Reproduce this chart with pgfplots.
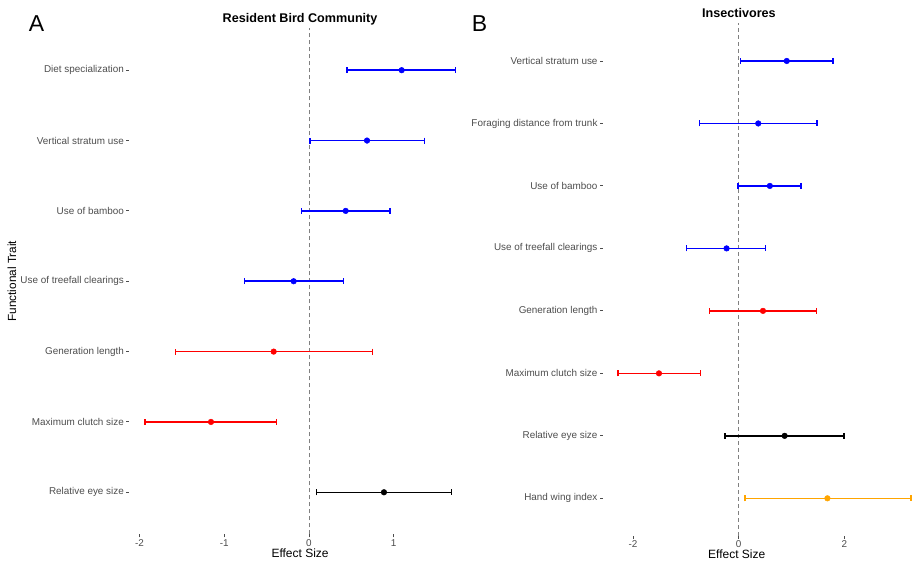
\documentclass[border=0pt]{standalone}
\usepackage{fontspec}
\setmainfont{Liberation Sans}
\usepackage{pgfplots}
\pgfplotsset{compat=1.18}
\definecolor{tickgray}{HTML}{4D4D4D}
\definecolor{zerogray}{HTML}{808080}
\definecolor{orng}{HTML}{FFA500}

\pgfplotsset{
 every axis title shift=0pt,
 forest/.style={
  scale only axis,
  axis x line=bottom, axis y line=left,
  axis line style={draw=none},
  tick align=outside,
  major tick length=3pt,
  tick style={tickgray, line width=0.9pt},
  ticklabel style={font=\fontsize{9.9}{11}\selectfont, text=tickgray},
  yticklabel style={xshift=1pt},
  xticklabel style={yshift=1.5pt},
  xlabel style={font=\fontsize{12}{14}\selectfont, anchor=center},
  ylabel style={font=\fontsize{11.8}{14}\selectfont, anchor=center},
  title style={font=\bfseries\fontsize{12.6}{14}\selectfont, anchor=center, yshift=0pt},
  /pgf/number format/assume math mode=true,
  clip=false,
 },
 fp/.style={only marks, mark=*, mark size=2.8pt, color=#1, fill=#1, draw=#1, line width=1.5pt,
   mark options={draw=#1, fill=#1, line width=0.5pt},
   error bars/.cd, x dir=both, x explicit, error mark=|,
   error mark options={mark size=3pt, line width=1.5pt, draw=#1, color=#1},
   error bar style={line width=1.5pt, draw=#1, color=#1}},
}
\pgfkeys{/pgfplots/table/errt/.style={x=m, y=y, x error plus expr=\thisrow{hi}-\thisrow{m}, x error minus expr=\thisrow{m}-\thisrow{lo}}}

\begin{document}
\begin{tikzpicture}
\useasboundingbox (0,0) rectangle (916pt,564pt);
\node[font=\fontsize{23}{26}\selectfont] at (36.5pt,540.5pt) {A};
\node[font=\fontsize{23}{26}\selectfont] at (479.5pt,540.5pt) {B};

\begin{axis}[forest, at={(129.4pt,29.5pt)}, anchor=south west,
  width=341.4pt, height=506.5pt,
  xmin=-2.12, xmax=1.91, ymin=0.4, ymax=7.6,
  xtick={-2,-1,0,1}, ytick={1,2,3,4,5,6,7},
  yticklabels={Relative eye size, Maximum clutch size, Generation length, Use of treefall clearings, Use of bamboo, Vertical stratum use, Diet specialization},
  xlabel={Effect Size}, ylabel={Functional Trait},
  xlabel style={at={(axis description cs:0.5,-0.0371)}},
  ylabel style={at={(axis description cs:-0.3439,0.5)}},
  title={Resident Bird Community},
  title style={at={(axis description cs:0.5,1.0174)}}]
\addplot[zerogray, dashed, dash pattern=on 4pt off 3pt, line width=0.9pt, forget plot] coordinates {(0,0.4) (0,7.6)};
\addplot[fp=blue] table[errt] {
y m lo hi
7 1.094 0.45 1.73
6 0.685 0.01 1.366
5 0.433 -0.09 0.956
4 -0.181 -0.764 0.405
};
\addplot[fp=red] table[errt] {
y m lo hi
3 -0.417 -1.574 0.748
2 -1.157 -1.936 -0.382
};
\addplot[fp=black] table[errt] {
y m lo hi
1 0.885 0.09 1.68
};
\end{axis}

\begin{axis}[forest, at={(603pt,28.2pt)}, anchor=south west,
  width=311pt, height=512.3pt,
  xmin=-2.57, xmax=3.32, ymin=0.4, ymax=8.6,
  xtick={-2,0,2}, ytick={1,2,3,4,5,6,7,8},
  yticklabels={Hand wing index, Relative eye size, Maximum clutch size, Generation length, Use of treefall clearings, Use of bamboo, Foraging distance from trunk, Vertical stratum use},
  xlabel={Effect Size},
  xlabel style={at={(axis description cs:0.43,-0.036)}},
  title={Insectivores},
  title style={at={(axis description cs:0.437,1.0199)}}]
\addplot[zerogray, dashed, dash pattern=on 4pt off 3pt, line width=0.9pt, forget plot] coordinates {(0,0.4) (0,8.6)};
\addplot[fp=blue] table[errt] {
y m lo hi
8 0.91 0.03 1.79
7 0.37 -0.74 1.48
6 0.59 -0.01 1.18
5 -0.23 -0.99 0.51
};
\addplot[fp=red] table[errt] {
y m lo hi
4 0.46 -0.55 1.47
3 -1.51 -2.29 -0.72
};
\addplot[fp=black] table[errt] {
y m lo hi
2 0.87 -0.26 1.99
};
\addplot[fp=orng] table[errt] {
y m lo hi
1 1.68 0.12 3.26
};
\end{axis}
\end{tikzpicture}
\end{document}
